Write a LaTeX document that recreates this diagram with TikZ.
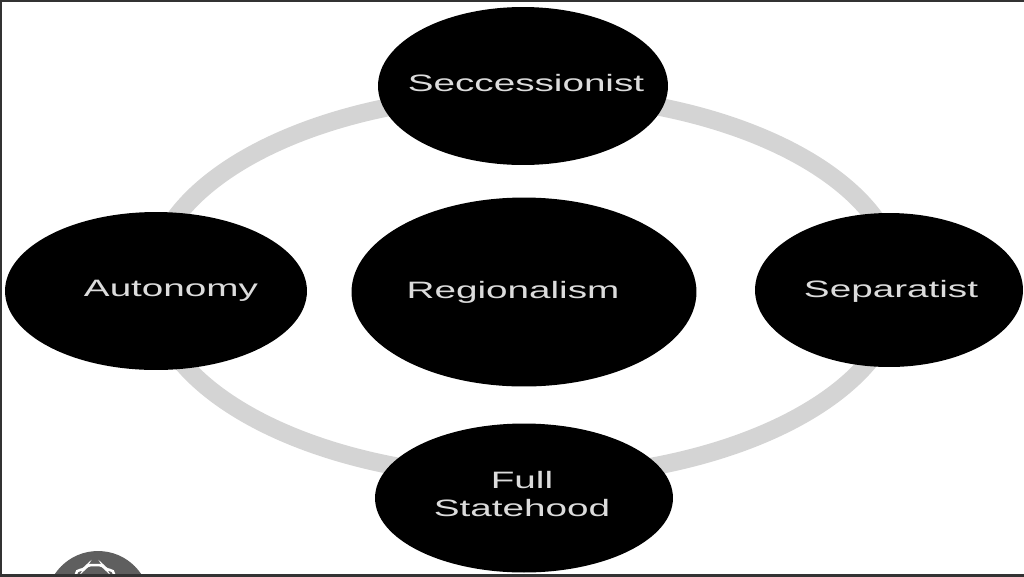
\documentclass[tikz,border=0pt]{standalone}
\usepackage{fontspec}
\setmainfont{Liberation Sans}
\usetikzlibrary{shapes.geometric}
\definecolor{ringgrey}{HTML}{D4D4D4}
\definecolor{txtgrey}{HTML}{DCDCDC}
\definecolor{framegrey}{HTML}{333333}
\definecolor{icongrey}{HTML}{5F5F5F}
\newcommand{\stretched}[1]{\scalebox{1.63}[1]{\begin{tabular}{@{}c@{}}#1\end{tabular}}}
\begin{document}
\begin{tikzpicture}[x=0.02cm,y=-0.02cm,
  blob/.style={ellipse, fill=black, draw=none, inner sep=0pt},
  lbl/.style={text=txtgrey, inner sep=0pt, font=\fontsize{13.5}{15.5}\selectfont},
  ring/.style={draw=ringgrey, line width=0.36cm}]
\useasboundingbox (0,0) rectangle (1024,576);
\fill[white] (0,0) rectangle (1024,576);
% ring
\draw[ring] (525,286) ellipse [x radius=7.48cm, y radius=3.84cm];
% ellipses
\node[blob, minimum width=5.80cm, minimum height=3.16cm] (top) at (523,86) {};
\node[blob, minimum width=6.04cm, minimum height=3.16cm] (left) at (156,291) {};
\node[blob, minimum width=6.90cm, minimum height=3.78cm] (mid) at (524,292) {};
\node[blob, minimum width=5.36cm, minimum height=3.08cm] (right) at (889,290) {};
\node[blob, minimum width=5.96cm, minimum height=2.98cm] (bottom) at (524,498) {};
% labels
\node[lbl] (ttop) at (526,86) {\stretched{Seccessionist}};
\node[lbl] (tleft) at (171,291) {\stretched{Autonomy}};
\node[lbl] (tmid) at (513,293) {\stretched{Regionalism}};
\node[lbl] (tright) at (891,292) {\stretched{Separatist}};
\node[lbl] (tbottom) at (522,497) {\stretched{Full\\Statehood}};
% corner icon
\begin{scope}
\clip (0,0) rectangle (1024,574);
\fill[icongrey] (98,603) circle [radius=1.04cm];
\draw[white, line width=0.05cm, rounded corners=0.08cm] (76,590) -- (76,570) -- (84,570) -- (87,565) -- (103,565) -- (106,570) -- (114,570) -- (114,590);
\end{scope}
% frame
\draw[framegrey, line width=0.05cm] (1,576) -- (1,0.5) -- (1024,0.5);
\draw[framegrey, line width=0.06cm] (0,575) -- (1024,575);
\end{tikzpicture}
\end{document}
